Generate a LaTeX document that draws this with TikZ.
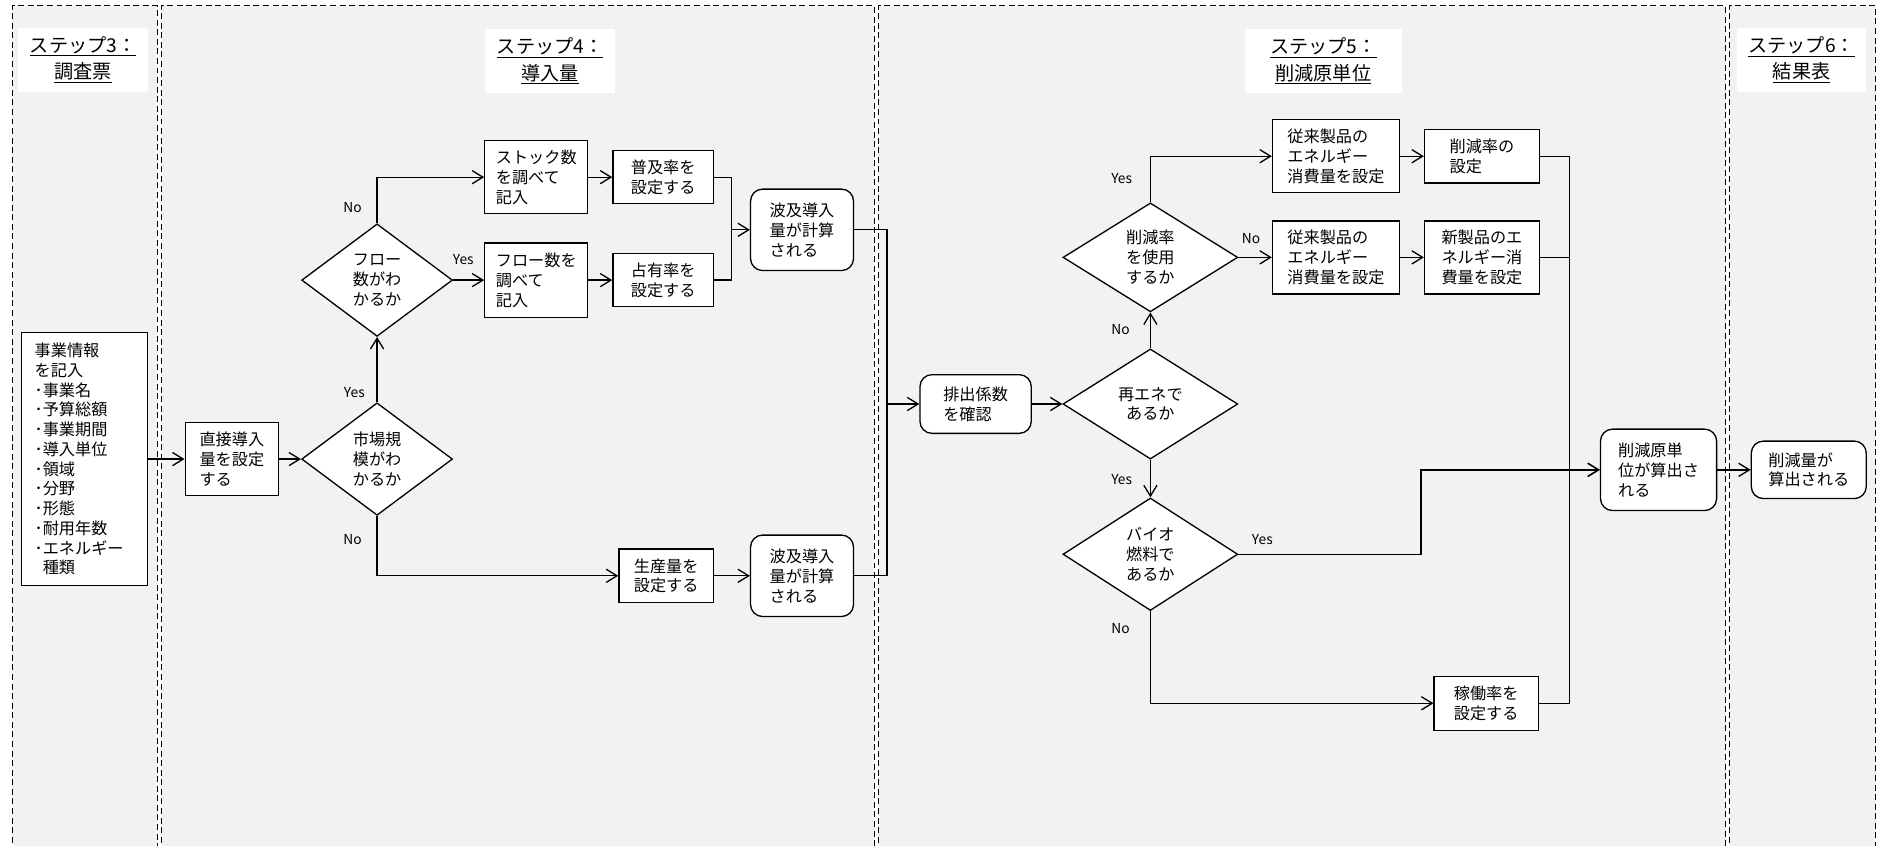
\documentclass[tikz,border=0pt]{standalone}
\usepackage{fontspec}
\setmainfont{Noto Sans CJK JP}
\usepackage{tikz}
\usetikzlibrary{arrows.meta}
\usetikzlibrary{shapes.geometric}

\definecolor{lanegray}{HTML}{F2F2F2}

\tikzset{
  lane/.style={draw=black, line width=0.7pt, dash pattern=on 5pt off 3pt},
  steptitle/.style={fill=white, minimum width=#1, minimum height=54, align=center, inner sep=0, font=\fontsize{16}{22}\selectfont},
  proc/.style={draw, fill=white, line width=1.1pt, align=left, inner sep=0, font=\fontsize{13.5}{16.5}\selectfont},
  term/.style={proc, rounded corners=10pt},
  cond/.style={draw, fill=white, diamond, line width=1.1pt, align=center, inner sep=0, font=\fontsize{13.5}{16.5}\selectfont},
  yn/.style={inner sep=0, font=\fontsize{11.5}{13}\selectfont},
  flow/.style={line width=1.1pt},
  arr/.style={flow, -{Straight Barb[length=9pt,width=11pt]}},
}

\begin{document}
\begin{tikzpicture}[x=1pt, y=-1pt]
          \useasboundingbox (0,0) rectangle (1568,706);
          \fill[white] (0,0) rectangle (1568,706);
          % lanes
          \foreach \xl/\xr in {10.5/131.5, 135/730.5, 734/1441.5, 1445/1567}{
            \fill[lanegray] (\xl,4.7) rectangle (\xr,712);
            \draw[lane] (\xl,712) -- (\xl,4.7) -- (\xr,4.7) -- (\xr,712);
          }
          % step titles
          \node[steptitle=109] (title3) at (69.5,50) {\underline{ステップ3：}\\\underline{調査票}};
          \node[steptitle=109] (title4) at (459.5,51) {\underline{ステップ4：}\\\underline{導入量}};
          \node[steptitle=131] (title5) at (1105.5,51) {\underline{ステップ5：}\\\underline{削減原単位}};
          \node[steptitle=108] (title6) at (1505,50) {\underline{ステップ6：}\\\underline{結果表}};
          % step 3
          \node[proc, minimum height=211, text width=83, inner xsep=11] (jigyo) at (70.5,383.5) {事業情報\\を記入\\･事業名\\･予算総額\\･事業期間\\･導入単位\\･領域\\･分野\\･形態\\･耐用年数\\･エネルギー\\\phantom{･}種類};
          % step 4
          \node[proc, minimum width=78, minimum height=61] (chokusetsu) at (193.7,383.5) {直接導入\\量を設定\\する};
          \node[cond, minimum width=126, minimum height=94] (shijo) at (315,383.5) {市場規\\模がわ\\かるか};
          \node[cond, minimum width=126, minimum height=94] (flowq) at (315,234) {フロー\\数がわ\\かるか};
          \node[proc, minimum width=86, minimum height=61] (stock) at (448,148) {ストック数\\を調べて\\記入};
          \node[proc, minimum width=86, minimum height=62] (flowcnt) at (448,234) {フロー数を\\調べて\\記入};
          \node[proc, minimum width=84, minimum height=44] (fukyu) at (554,148) {普及率を\\設定する};
          \node[proc, minimum width=84, minimum height=44] (senyu) at (554,234) {占有率を\\設定する};
          \node[term, minimum width=86, minimum height=68] (hakyuA) at (670,192) {波及導入\\量が計算\\される};
          \node[proc, minimum width=79, minimum height=45] (seisan) at (556.5,481) {生産量を\\設定する};
          \node[term, minimum width=86, minimum height=68] (hakyuB) at (670,481) {波及導入\\量が計算\\される};
          % step 5
          \node[term, minimum width=93, minimum height=49] (haishutsu) at (815,337.5) {排出係数\\を確認};
          \node[cond, minimum width=146, minimum height=92] (saiene) at (961,337.5) {再エネで\\あるか};
          \node[cond, minimum width=146, minimum height=91] (sakugenq) at (961,215) {削減率\\を使用\\するか};
          \node[cond, minimum width=146, minimum height=94] (bio) at (961,463) {バイオ\\燃料で\\あるか};
          \node[proc, minimum width=106, minimum height=61] (juraiA) at (1116,130.5) {従来製品の\\エネルギー\\消費量を設定};
          \node[proc, minimum width=96, minimum height=45] (ritsu) at (1238,130.5) {削減率の\\設定};
          \node[proc, minimum width=106, minimum height=61] (juraiB) at (1116,215) {従来製品の\\エネルギー\\消費量を設定};
          \node[proc, minimum width=96, minimum height=61] (shinsei) at (1238,215) {新製品のエ\\ネルギー消\\費量を設定};
          \node[proc, minimum width=87, minimum height=45] (kado) at (1241.5,587.5) {稼働率を\\設定する};
          \node[term, minimum width=97, minimum height=68] (gentani) at (1385.5,392.5) {削減原単\\位が算出さ\\れる};
          % step 6
          \node[term, minimum width=96, minimum height=48] (ryo) at (1511,392.5) {削減量が\\算出される};
          % junctions
          \coordinate (mergeA) at (611,192);
          \coordinate (mergeB) at (741,337.5);
          \coordinate (mergeC) at (1311,392.5);
          \coordinate (bend) at (1187,392.5);
          % connectors
          \draw[arr] (jigyo) -- (chokusetsu);
          \draw[arr] (chokusetsu) -- (shijo);
          \draw[arr] (shijo.north) -- (flowq.south);
          \draw[arr] (shijo.south) |- (seisan.west);
          \draw[arr] (flowq.north) |- (stock.west);
          \draw[arr] (flowq.east) -- (flowcnt.west);
          \draw[arr] (stock) -- (fukyu);
          \draw[arr] (flowcnt) -- (senyu);
          \draw[flow] (fukyu.east) -| (mergeA) |- (senyu.east);
          \draw[arr] (mergeA) -- (hakyuA);
          \draw[arr] (seisan) -- (hakyuB);
          \draw[flow] (hakyuA.east) -| (mergeB) |- (hakyuB.east);
          \draw[arr] (mergeB) -- (haishutsu);
          \draw[arr] (haishutsu) -- (saiene);
          \draw[arr] (saiene.north) -- (sakugenq.south);
          \draw[arr] (saiene.south) -- (bio.north);
          \draw[arr] (sakugenq.north) |- (juraiA.west);
          \draw[arr] (sakugenq.east) -- (juraiB.west);
          \draw[arr] (juraiA) -- (ritsu);
          \draw[arr] (juraiB) -- (shinsei);
          \draw[arr] (bio.south) |- (kado.west);
          \draw[flow] (ritsu.east) -| (mergeC) |- (kado.east);
          \draw[flow] (shinsei.east) -- (shinsei.east -| mergeC);
          \draw[arr] (bio.east) -| (bend) -- (gentani.west);
          \draw[arr] (mergeC) -- (gentani);
          \draw[arr] (gentani) -- (ryo);
          % yes / no
          \node[yn] (noFlow) at (294.5,173) {No};
          \node[yn] (yesFlow) at (387,217) {Yes};
          \node[yn] (yesShijo) at (296,328) {Yes};
          \node[yn] (noShijo) at (294.5,451) {No};
          \node[yn] (yesSakugen) at (937,149) {Yes};
          \node[yn] (noSakugen) at (1045,199) {No};
          \node[yn] (noSaiene) at (936,275) {No};
          \node[yn] (yesSaiene) at (937,401) {Yes};
          \node[yn] (yesBio) at (1054.5,451) {Yes};
          \node[yn] (noBio) at (936,525) {No};
\end{tikzpicture}
\end{document}
